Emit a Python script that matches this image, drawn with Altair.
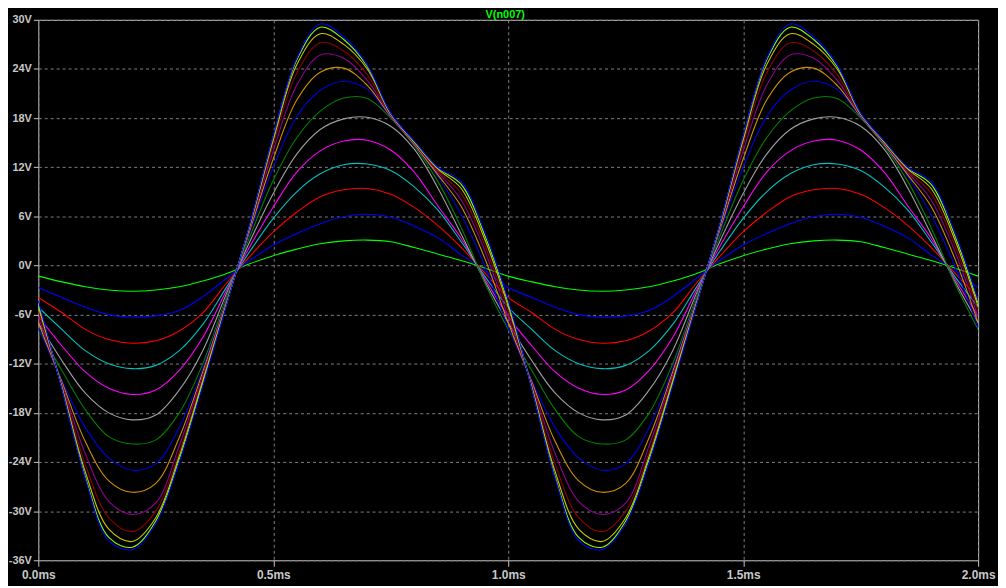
import altair as alt
import pandas as pd

# time axis (ms)
t_ms = [0.0, 0.05, 0.1, 0.15, 0.2, 0.25, 0.3, 0.35, 0.4, 0.45,
        0.5, 0.55, 0.6, 0.65, 0.7, 0.75, 0.8, 0.85, 0.9, 0.95,
        1.0, 1.05, 1.1, 1.15, 1.2, 1.25, 1.3, 1.35, 1.4, 1.45,
        1.5, 1.55, 1.6, 1.65, 1.7, 1.75, 1.8, 1.85, 1.9, 1.95, 2.0]

# V(n007) for each .step run (volts)
v_step01 = [-1.3, -2.0, -2.6, -3.0, -3.15, -3.0, -2.6, -1.9, -1.0, 0.2, 1.2, 2.0, 2.65, 3.0, 3.1, 2.9, 2.2, 1.4, 0.6, -0.3,
            -1.3, -2.0, -2.6, -3.0, -3.15, -3.0, -2.6, -1.9, -1.0, 0.2, 1.2, 2.0, 2.65, 3.0, 3.1, 2.9, 2.2, 1.4, 0.6, -0.3, -1.3]
v_step02 = [-2.7, -3.9, -5.1, -6.0, -6.3, -6.15, -5.5, -3.8, -1.6, 0.6, 2.5, 3.9, 5.1, 5.95, 6.25, 5.9, 4.8, 3.4, 1.3, -0.6,
            -2.7, -3.9, -5.1, -6.0, -6.3, -6.15, -5.5, -3.8, -1.6, 0.6, 2.5, 3.9, 5.1, 5.95, 6.25, 5.9, 4.8, 3.4, 1.3, -0.6, -2.7]
v_step03 = [-3.9, -5.75, -7.8, -9.05, -9.5, -9.2, -8.0, -5.8, -2.2, 1.1, 4.1, 6.5, 8.4, 9.25, 9.4, 8.7, 7.1, 4.9, 2.2, -0.9,
            -3.9, -5.75, -7.8, -9.05, -9.5, -9.2, -8.0, -5.8, -2.2, 1.1, 4.1, 6.5, 8.4, 9.25, 9.4, 8.7, 7.1, 4.9, 2.2, -0.9, -3.9]
v_step04 = [-5.1, -7.8, -10.4, -12.0, -12.6, -12.2, -10.4, -7.2, -2.7, 1.7, 5.75, 9.0, 11.2, 12.3, 12.4, 11.6, 9.6, 6.8, 2.9, -1.3,
            -5.1, -7.8, -10.4, -12.0, -12.6, -12.2, -10.4, -7.2, -2.7, 1.7, 5.75, 9.0, 11.2, 12.3, 12.4, 11.6, 9.6, 6.8, 2.9, -1.3, -5.1]
v_step05 = [-6.2, -9.8, -13.0, -15.0, -15.75, -15.2, -12.8, -8.8, -3.1, 2.3, 7.15, 11.4, 14.0, 15.2, 15.3, 14.1, 11.4, 7.3, 3.3, -1.6,
            -6.2, -9.8, -13.0, -15.0, -15.75, -15.2, -12.8, -8.8, -3.1, 2.3, 7.15, 11.4, 14.0, 15.2, 15.3, 14.1, 11.4, 7.3, 3.3, -1.6, -6.2]
v_step06 = [-7.0, -11.6, -15.6, -18.0, -18.85, -18.25, -15.2, -10.4, -3.5, 2.9, 8.8, 13.6, 16.6, 17.9, 18.1, 17.0, 14.2, 9.5, 3.8, -1.9,
            -7.0, -11.6, -15.6, -18.0, -18.85, -18.25, -15.2, -10.4, -3.5, 2.9, 8.8, 13.6, 16.6, 17.9, 18.1, 17.0, 14.2, 9.5, 3.8, -1.9, -7.0]
v_step07 = [-7.8, -12.8, -17.6, -20.9, -21.8, -21.3, -18.0, -12.0, -3.9, 3.5, 10.4, 15.6, 18.85, 20.45, 20.4, 18.0, 14.6, 10.3, 4.6, -2.1,
            -7.8, -12.8, -17.6, -20.9, -21.8, -21.3, -18.0, -12.0, -3.9, 3.5, 10.4, 15.6, 18.85, 20.45, 20.4, 18.0, 14.6, 10.3, 4.6, -2.1, -7.8]
v_step08 = [-7.6, -14.0, -19.8, -23.5, -25.0, -24.2, -19.8, -12.6, -4.2, 4.0, 12.0, 18.2, 21.4, 22.5, 21.5, 18.1, 14.7, 10.9, 6.2, 0.0,
            -7.6, -14.0, -19.8, -23.5, -25.0, -24.2, -19.8, -12.6, -4.2, 4.0, 12.0, 18.2, 21.4, 22.5, 21.5, 18.1, 14.7, 10.9, 6.2, 0.0, -7.6]
v_step09 = [-7.0, -14.2, -21.5, -26.3, -27.7, -26.6, -21.0, -13.0, -4.4, 4.3, 13.0, 20.2, 23.6, 24.1, 22.0, 18.2, 14.8, 11.1, 7.2, 0.9,
            -7.0, -14.2, -21.5, -26.3, -27.7, -26.6, -21.0, -13.0, -4.4, 4.3, 13.0, 20.2, 23.6, 24.1, 22.0, 18.2, 14.8, 11.1, 7.2, 0.9, -7.0]
v_step10 = [-6.3, -14.4, -23.0, -28.8, -30.4, -29.0, -22.0, -13.4, -4.5, 4.5, 14.0, 22.0, 25.7, 25.3, 22.6, 18.3, 14.9, 11.4, 8.0, 1.8,
            -6.3, -14.4, -23.0, -28.8, -30.4, -29.0, -22.0, -13.4, -4.5, 4.5, 14.0, 22.0, 25.7, 25.3, 22.6, 18.3, 14.9, 11.4, 8.0, 1.8, -6.3]
v_step11 = [-5.6, -14.6, -24.3, -30.8, -32.5, -30.0, -22.8, -13.8, -4.6, 4.7, 14.8, 23.5, 27.2, 26.2, 23.3, 18.4, 15.0, 11.6, 8.8, 2.5,
            -5.6, -14.6, -24.3, -30.8, -32.5, -30.0, -22.8, -13.8, -4.6, 4.7, 14.8, 23.5, 27.2, 26.2, 23.3, 18.4, 15.0, 11.6, 8.8, 2.5, -5.6]
v_step12 = [-5.0, -14.8, -25.2, -32.2, -33.7, -30.8, -23.3, -14.1, -4.7, 4.8, 15.3, 24.5, 28.3, 27.0, 24.0, 18.5, 15.1, 11.8, 9.4, 3.2,
            -5.0, -14.8, -25.2, -32.2, -33.7, -30.8, -23.3, -14.1, -4.7, 4.8, 15.3, 24.5, 28.3, 27.0, 24.0, 18.5, 15.1, 11.8, 9.4, 3.2, -5.0]
v_step13 = [-4.6, -14.9, -25.8, -33.2, -34.4, -31.2, -23.7, -14.4, -4.8, 4.9, 15.7, 25.1, 29.1, 27.6, 24.3, 18.5, 15.1, 11.9, 9.9, 3.7,
            -4.6, -14.9, -25.8, -33.2, -34.4, -31.2, -23.7, -14.4, -4.8, 4.9, 15.7, 25.1, 29.1, 27.6, 24.3, 18.5, 15.1, 11.9, 9.9, 3.7, -4.6]
v_step14 = [-4.3, -15.0, -26.0, -33.6, -34.7, -31.5, -24.0, -14.7, -4.9, 5.0, 15.8, 25.3, 29.5, 27.9, 24.5, 18.6, 15.2, 12.0, 10.2, 4.1,
            -4.3, -15.0, -26.0, -33.6, -34.7, -31.5, -24.0, -14.7, -4.9, 5.0, 15.8, 25.3, 29.5, 27.9, 24.5, 18.6, 15.2, 12.0, 10.2, 4.1, -4.3]

step_names = ["step 01", "step 02", "step 03", "step 04", "step 05", "step 06", "step 07",
              "step 08", "step 09", "step 10", "step 11", "step 12", "step 13", "step 14"]
step_colors = ["#00ff00", "#0000ff", "#ff0000", "#00c0c0", "#ff00ff", "#a0a0a0", "#008000",
               "#0000e0", "#d09000", "#900090", "#900000", "#c8c800", "#80ff00", "#0000ff"]

y_ticks = [-36, -30, -24, -18, -12, -6, 0, 6, 12, 18, 24, 30]
x_ticks = [0.0, 0.5, 1.0, 1.5, 2.0]
title_text = ["V(n007)"]

all_series = [v_step01, v_step02, v_step03, v_step04, v_step05, v_step06, v_step07,
              v_step08, v_step09, v_step10, v_step11, v_step12, v_step13, v_step14]

rows = []
for k, (name, vals) in enumerate(zip(step_names, all_series)):
    for t, v in zip(t_ms, vals):
        rows.append({"t": t, "v": v, "step": name, "k": k})
df = pd.DataFrame(rows)

FONT = "Liberation Sans"
LABEL = "#c8c8c8"
W = 946
H = 544

lines = alt.Chart(df).mark_line(strokeWidth=1.1, interpolate="catmull-rom", clip=True).encode(
    x=alt.X("t:Q",
            scale=alt.Scale(domain=[0, 2], nice=False, zero=False),
            axis=alt.Axis(values=x_ticks, labelExpr="format(datum.value, '.1f') + 'ms'",
                          title=None, labelFlush=False, labelPadding=3, tickSize=6,
                          labelFontSize=12)),
    y=alt.Y("v:Q",
            scale=alt.Scale(domain=[-36, 30], nice=False, zero=False),
            axis=alt.Axis(values=y_ticks, labelExpr="datum.value + 'V'", title=None,
                          labelPadding=2, tickSize=5, labelFontSize=11)),
    color=alt.Color("step:N", scale=alt.Scale(domain=step_names, range=step_colors), legend=None),
    detail="k:O",
)

title = alt.Chart(pd.DataFrame({"label": title_text})).mark_text(
    color="#00ff00", font=FONT, fontSize=11, fontWeight="bold",
    align="center", baseline="alphabetic", clip=False,
).encode(
    text="label:N",
    x=alt.value(W / 2 - 3),
    y=alt.value(-2),
)

chart = alt.layer(lines, title).properties(
    width=W,
    height=H,
    autosize="none",
    padding={"left": 30.5, "top": 10, "right": 20, "bottom": 24},
).configure(
    background="black",
).configure_view(
    stroke="#c8c8c8", strokeWidth=1, fill="black",
).configure_axis(
    grid=True, gridColor="#808080", gridDash=[3, 3], gridWidth=1, gridOpacity=1,
    domain=False, ticks=True, tickColor="#c8c8c8", tickWidth=1,
    labelColor=LABEL, labelFont=FONT, labelFontWeight="bold",
)

chart.save("out.html", embed_options={"renderer": "svg", "actions": False})
